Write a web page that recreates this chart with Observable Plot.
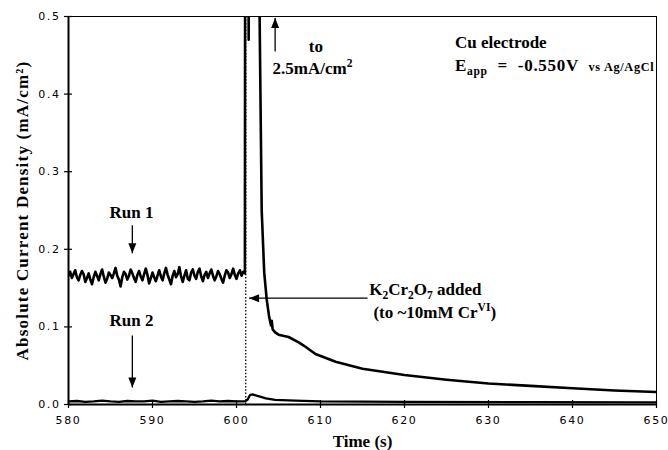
<!DOCTYPE html>
<html><head><meta charset="utf-8">
<script src="https://cdn.jsdelivr.net/npm/d3@7"></script>
<script src="https://cdn.jsdelivr.net/npm/@observablehq/plot@0.6"></script>
<style>
body{margin:0;background:#fff}
#chart svg{display:block}
</style></head><body><div id="chart"></div>
<script>
// ---- data ----
const xTicks = [580, 590, 600, 610, 620, 630, 640, 650];
const yTicks = [0, 0.1, 0.2, 0.3, 0.4, 0.5];
const injectTime = 601.1;

// Run 1 baseline, sampled every 0.2 s from 580 s to 601 s
const run1Start = 580, run1Step = 0.2;
const run1Baseline = [
  0.166,0.171,0.163,0.168,0.173,0.164,0.160,0.167,0.172,0.168,
  0.158,0.163,0.169,0.161,0.155,0.164,0.171,0.166,0.160,0.168,
  0.174,0.165,0.157,0.162,0.170,0.167,0.163,0.169,0.176,0.166,
  0.161,0.152,0.164,0.171,0.168,0.161,0.166,0.174,0.169,0.163,
  0.158,0.167,0.172,0.165,0.160,0.168,0.175,0.167,0.156,0.163,
  0.170,0.164,0.159,0.166,0.173,0.165,0.160,0.169,0.176,0.167,
  0.161,0.155,0.166,0.172,0.164,0.168,0.177,0.165,0.158,0.166,
  0.173,0.162,0.160,0.170,0.174,0.166,0.162,0.171,0.175,0.165,
  0.159,0.167,0.171,0.163,0.169,0.174,0.166,0.160,0.165,0.172,
  0.168,0.162,0.157,0.166,0.173,0.170,0.163,0.168,0.175,0.167,
  0.162,0.169,0.173,0.166,0.171,0.169
];
// Run 1 after K2Cr2O7 addition
const run1AfterTime  = [601.12, 601.45, 601.6, 602.2, 602.7, 602.8, 603.0, 603.3, 603.6, 603.9, 604.1, 604.2, 604.3, 604.6, 605.0, 606.2, 607.4, 608.0, 609.4, 611.8, 615, 620, 625, 630, 635, 640, 645, 650];
const run1AfterValue = [2.0,   0.47,  2.5,   1.4,   0.55,  0.45,  0.25,  0.17,  0.135, 0.112, 0.102, 0.108, 0.097, 0.093, 0.090, 0.087, 0.080, 0.076, 0.065, 0.055, 0.046, 0.038, 0.032, 0.027, 0.024, 0.021, 0.018, 0.016];

// Run 2 baseline, every 1 s from 580 s to 601 s
const run2Start = 580, run2Step = 1;
const run2Baseline = [0.004,0.0045,0.0035,0.004,0.005,0.004,0.0035,0.0045,0.004,0.004,0.005,0.0035,0.004,0.0045,0.004,0.0035,0.004,0.005,0.004,0.0045,0.004,0.004];
const run2AfterTime  = [601.3, 601.6, 601.9, 602.5, 603.5, 604.6, 607, 610, 620, 635, 650];
const run2AfterValue = [0.006, 0.012, 0.013, 0.011, 0.008, 0.006, 0.005, 0.004, 0.0035, 0.003, 0.0028];

// annotation arrows (data units) and labels
const arrowX1 = [587.6, 587.6, 604.6, 615.6];
const arrowY1 = [0.231, 0.089, 0.455, 0.137];
const arrowX2 = [587.6, 587.6, 604.6, 601.5];
const arrowY2 = [0.195, 0.022, 0.498, 0.137];
const arrowRot = [180, 180, 0, 270];

const centerLabels = ["Run 1", "Run 2"];
const centerLabelX = [587.5, 587.5];
const centerLabelY = [0.247, 0.108];

const eappLabel = "E_{app}  =  -0.550V  %{vs Ag/AgCl}";
const leftLabels = ["to", "2.5mA/cm^{2}", "Cu electrode", eappLabel, "K_{2}Cr_{2}O_{7} added", "(to ~10mM Cr^{VI})"];
const leftLabelX = [608.6, 604.3, 626.0, 626.0, 615.8, 616.3];
const leftLabelY = [0.461, 0.433, 0.4665, 0.437, 0.148, 0.119];

const xTitle = "Time (s)";
const yTitle = "Absolute Current Density (mA/cm²)";

// ---- build tables ----
const run1 = [
  ...run1Baseline.map((v, i) => ({t: run1Start + i * run1Step, v})),
  ...run1AfterTime.map((t, i) => ({t, v: run1AfterValue[i]}))
];
const run2 = [
  ...run2Baseline.map((v, i) => ({t: run2Start + i * run2Step, v})),
  ...run2AfterTime.map((t, i) => ({t, v: run2AfterValue[i]}))
];
const arrows = arrowX1.map((x1, i) => ({x1, y1: arrowY1[i], x2: arrowX2[i], y2: arrowY2[i], rot: arrowRot[i]}));
const cLabels = centerLabels.map((text, i) => ({text, x: centerLabelX[i], y: centerLabelY[i]}));
const lLabels = leftLabels.map((text, i) => ({text, x: leftLabelX[i], y: leftLabelY[i]}));

const arrowHead = {
  draw(ctx, size) {
    const r = Math.sqrt(size / Math.PI);
    const L = 2.5 * r, W = 1.0 * r;
    ctx.moveTo(0, 0); ctx.lineTo(-W, L); ctx.lineTo(W, L); ctx.closePath();
  }
};
const serif = "'Liberation Serif', 'Times New Roman', Tinos, 'DejaVu Serif', serif";
const tickFont = "'DejaVu Sans', sans-serif";

const plot = Plot.plot({
  width: 668, height: 450,
  marginLeft: 68, marginRight: 12, marginTop: 16, marginBottom: 46,
  x: {domain: [580, 650]},
  y: {domain: [0, 0.5]},
  style: {fontFamily: tickFont, fontSize: "11px", color: "#000", background: "#fff"},
  marks: [
    Plot.frame({stroke: "#000", strokeWidth: 1}),
    Plot.ruleX([580], {strokeWidth: 2}),
    Plot.ruleY([0], {strokeWidth: 2}),
    Plot.axisX({ticks: xTicks, tickSize: 8, dy: -4, fill: "none", strokeWidth: 1.2}),
    Plot.axisY({ticks: yTicks, tickSize: 8, dx: 4, fill: "none", strokeWidth: 1.2}),
    Plot.axisX({ticks: xTicks, tickSize: 0, tickPadding: 12, tickFormat: d => String(d), label: null, fontFamily: tickFont, fontSize: 11}),
    Plot.axisY({ticks: yTicks, tickSize: 0, tickPadding: 8, tickFormat: d3.format(".1f"), label: null, fontFamily: tickFont, fontSize: 11}),
    Plot.text([xTitle], {frameAnchor: "bottom", textAnchor: "middle", lineAnchor: "bottom", dy: 42, text: d => d, fontFamily: serif, fontWeight: "bold", fontSize: 17}),
    Plot.text([yTitle], {frameAnchor: "left", textAnchor: "middle", lineAnchor: "middle", dx: -46, rotate: -90, text: d => d, fontFamily: serif, fontWeight: "bold", fontSize: 17}),
    Plot.ruleX([injectTime], {y1: 0, y2: 0.5, stroke: "#000", strokeWidth: 1.3, strokeDasharray: "1.5,1.8"}),
    Plot.line(run2, {x: "t", y: "v", stroke: "#000", strokeWidth: 2.3, clip: true}),
    Plot.line(run1, {x: "t", y: "v", stroke: "#000", strokeWidth: 2.6, clip: true}),
    Plot.link(arrows, {x1: "x1", y1: "y1", x2: "x2", y2: "y2", stroke: "#000", strokeWidth: 1.3}),
    Plot.dot(arrows, {x: "x2", y: "y2", rotate: "rot", symbol: arrowHead, r: 4, fill: "#000", stroke: null}),
    Plot.text(cLabels, {x: "x", y: "y", text: "text", textAnchor: "middle", fontFamily: serif, fontWeight: "bold", fontSize: 17}),
    Plot.text(lLabels, {x: "x", y: "y", text: "text", textAnchor: "start", fontFamily: serif, fontWeight: "bold", fontSize: 17})
  ]
});
document.getElementById("chart").append(plot);

// tick labels, y title and Eapp line: letter spacing
d3.select(plot).selectAll('g[aria-label="x-axis tick label"] text, g[aria-label="y-axis tick label"] text').style("letter-spacing", "1.6px");
d3.select(plot).selectAll("text").filter(function () { return this.textContent === yTitle; }).style("letter-spacing", "1.2px");
d3.select(plot).selectAll("text").filter(function () { return this.textContent === eappLabel; }).style("letter-spacing", "0.7px");

// rich text: _{sub}, ^{sup}, %{small}
function richify(el) {
  const s = el.textContent;
  if (!/[_^%]\{/.test(s)) return;
  const fs = parseFloat(getComputedStyle(el).fontSize) || 17;
  el.textContent = "";
  const re = /([_^%])\{([^}]*)\}|([^_^%]+)/g;
  let m, shift = 0;
  while ((m = re.exec(s))) {
    const t = d3.select(el).append("tspan");
    if (m[1]) {
      const kind = m[1];
      const target = kind === "_" ? fs * 0.25 : kind === "^" ? -fs * 0.38 : 0;
      t.attr("font-size", kind === "%" ? fs * 0.72 : fs * 0.68).attr("dy", target - shift).text(m[2]);
      shift = target;
    } else {
      t.attr("dy", -shift).text(m[3]);
      shift = 0;
    }
  }
}
d3.select(plot).selectAll("text").each(function () { richify(this); });
</script></body></html>
